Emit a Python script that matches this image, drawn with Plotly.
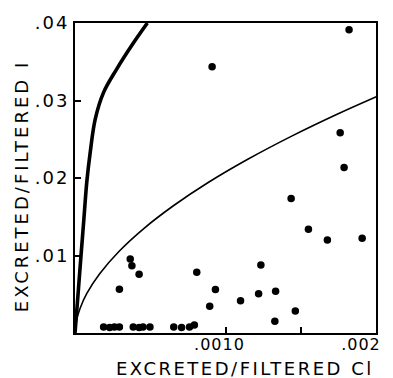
import plotly.graph_objects as go

# Scatter data (excreted/filtered Cl, excreted/filtered I)
pts_x = [0.001821, 0.000911, 0.001762, 0.001788, 0.001436, 0.001551, 0.001677, 0.001908,
         0.001235, 0.000933, 0.001220, 0.001333, 0.000895, 0.001100, 0.001464, 0.001328,
         0.000809, 0.000367, 0.000378, 0.000426, 0.000295,
         0.000190, 0.000230, 0.000262, 0.000295, 0.000387, 0.000426, 0.000452, 0.000498,
         0.000656, 0.000708, 0.000761, 0.000793]
pts_y = [0.03914, 0.03434, 0.02585, 0.02134, 0.01734, 0.01338, 0.01201, 0.01223,
         0.00879, 0.00562, 0.00505, 0.00540, 0.00345, 0.00415, 0.00285, 0.00153,
         0.00783, 0.00955, 0.00869, 0.00758, 0.00566,
         0.00077, 0.00070, 0.00077, 0.00077, 0.00077, 0.00070, 0.00077, 0.00077,
         0.00077, 0.00070, 0.00077, 0.00102]

# Thick curve
thick_x = [0.0, 0.0000197, 0.0000393, 0.000059, 0.0000787, 0.0001016, 0.0001344,
           0.000190, 0.000275, 0.000380, 0.000481]
thick_y = [0.0, 0.00486, 0.00984, 0.0147, 0.01955, 0.02339, 0.0276,
           0.03105, 0.03399, 0.03719, 0.0400]

# Thin curve
thin_x = [0.0, 0.0000098, 0.0000328, 0.0000787, 0.000164, 0.000295, 0.000459, 0.000656,
          0.000885, 0.001148, 0.001443, 0.001738, 0.002003]
thin_y = [0.0, 0.00161, 0.00314, 0.0051, 0.00764, 0.01058, 0.01351, 0.01645,
          0.01942, 0.02242, 0.02544, 0.0282, 0.0305]

y_tickvals = [0.01, 0.02, 0.03, 0.04]
y_ticktext = [".01", ".02", ".03", ".04"]
x_tickmarks = [0.001, 0.0015]
x_labelvals = [0.00096, 0.00190]
x_ticktext = [".0010", ".002"]
x_title = "EXCRETED/FILTERED Cl"
y_title = "EXCRETED/FILTERED I"

FONT = "DejaVu Sans"


def spaced(t, px):
    return '<span style="letter-spacing:%spx">%s</span>' % (px, t)


fig = go.Figure()
fig.add_trace(go.Scatter(x=thick_x, y=thick_y, mode="lines",
                         line=dict(color="black", width=3.6, shape="spline", smoothing=1.0),
                         hoverinfo="skip", showlegend=False))
fig.add_trace(go.Scatter(x=thin_x, y=thin_y, mode="lines", xaxis="x2",
                         line=dict(color="black", width=1.6, shape="spline", smoothing=1.0),
                         hoverinfo="skip", showlegend=False))
fig.add_trace(go.Scatter(x=pts_x, y=pts_y, mode="markers",
                         marker=dict(color="black", size=7.5),
                         cliponaxis=False, showlegend=False))

fig.update_layout(
    width=393, height=378,
    margin=dict(l=75, r=12, t=20, b=45),
    paper_bgcolor="white", plot_bgcolor="white",
    font=dict(family=FONT, color="black"),
    xaxis=dict(range=[0, 0.002], tickvals=x_tickmarks, showticklabels=False,
               ticks="inside", ticklen=6, tickwidth=1.6, tickcolor="black",
               showline=True, linewidth=2, linecolor="black", mirror=True,
               showgrid=False, zeroline=False),
    xaxis2=dict(range=[0, 0.002], overlaying="x", anchor="y", side="bottom",
                tickvals=x_labelvals, ticktext=[spaced(t, 1) for t in x_ticktext], ticks="",
                tickfont=dict(family=FONT, size=16, color="black"),
                showline=False, showgrid=False, zeroline=False),
    yaxis=dict(range=[0, 0.04], tickvals=y_tickvals,
               ticktext=[spaced(t, 2) for t in y_ticktext],
               ticks="inside", ticklen=6, tickwidth=1.6, tickcolor="black",
               tickfont=dict(family=FONT, size=18, color="black"),
               showline=True, linewidth=2, linecolor="black", mirror=True,
               showgrid=False, zeroline=False),
    annotations=[
        dict(text=spaced(x_title, 2.5), xref="paper", yref="paper",
             x=(248 - 75) / 305.5, y=(333 - 368.5) / 313, xanchor="center", yanchor="middle",
             showarrow=False, font=dict(family=FONT, size=18, color="black")),
        dict(text=spaced(y_title, 3.0), xref="paper", yref="paper",
             x=(21 - 75) / 305.5, y=(333 - 184) / 313, xanchor="center", yanchor="middle",
             textangle=-90, showarrow=False, font=dict(family=FONT, size=18, color="black")),
    ],
)

fig.write_html("out.html")
